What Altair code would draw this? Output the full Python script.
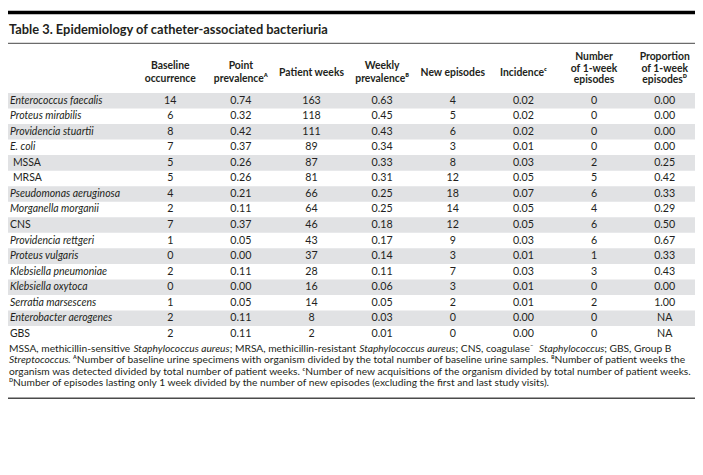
import altair as alt
import pandas as pd

# ---------------- data ----------------
organisms = ["Enterococcus faecalis", "Proteus mirabilis", "Providencia stuartii", "E. coli",
             "MSSA", "MRSA", "Pseudomonas aeruginosa", "Morganella morganii", "CNS",
             "Providencia rettgeri", "Proteus vulgaris", "Klebsiella pneumoniae",
             "Klebsiella oxytoca", "Serratia marsescens", "Enterobacter aerogenes", "GBS"]
baseline = [14, 6, 8, 7, 5, 5, 4, 2, 7, 1, 0, 2, 0, 1, 2, 2]
point_prev = [0.74, 0.32, 0.42, 0.37, 0.26, 0.26, 0.21, 0.11, 0.37, 0.05, 0.00, 0.11, 0.00, 0.05, 0.11, 0.11]
patient_weeks = [163, 118, 111, 89, 87, 81, 66, 64, 46, 43, 37, 28, 16, 14, 8, 2]
weekly_prev = [0.63, 0.45, 0.43, 0.34, 0.33, 0.31, 0.25, 0.25, 0.18, 0.17, 0.14, 0.11, 0.06, 0.05, 0.03, 0.01]
new_episodes = [4, 5, 6, 3, 8, 12, 18, 14, 12, 9, 3, 7, 3, 2, 0, 0]
incidence = [0.02, 0.02, 0.02, 0.01, 0.03, 0.05, 0.07, 0.05, 0.05, 0.03, 0.01, 0.03, 0.01, 0.01, 0.00, 0.00]
one_week = [0, 0, 0, 0, 2, 5, 6, 4, 6, 6, 1, 3, 0, 2, 0, 0]
proportion = [0.00, 0.00, 0.00, 0.00, 0.25, 0.42, 0.33, 0.29, 0.50, 0.67, 0.33, 0.43, 0.00, 1.00, None, None]

col_keys = ["baseline", "point", "weeks", "weekly", "new", "incidence", "oneweek", "proportion"]
col_headers = ["Baseline\noccurrence", "Point\nprevalence\u1d2c", "Patient weeks", "Weekly\nprevalence\u1d2e",
               "New episodes", "Incidence\u1d9c", "Number\nof 1-week\nepisodes", "Proportion\nof 1-week\nepisodes\u1d30"]
roman_names = ["MSSA", "MRSA", "CNS", "GBS"]
indented_names = ["MSSA", "MRSA"]

title_text = "Table 3. Epidemiology of catheter-associated bacteriuria"

# footnote segments: (text, style)
footnote_lines = [
    [("MSSA, methicillin-sensitive ", "normal"), ("Staphylococcus aureus", "italic"),
     ("; MRSA, methicillin-resistant ", "normal"), ("Staphylococcus aureus", "italic"),
     ("; CNS, coagulase\u207b ", "normal"), ("Staphylococcus", "italic"), ("; GBS, Group B", "normal")],
    [("Streptococcus", "italic"),
     (". \u1d2cNumber of baseline urine specimens with organism divided by the total number of baseline urine samples. \u1d2eNumber of patient weeks the", "normal")],
    [("organism was detected divided by total number of patient weeks. \u1d9cNumber of new acquisitions of the organism divided by total number of patient weeks.", "normal")],
    [("\u1d30Number of episodes lasting only 1 week divided by the number of new episodes (excluding the first and last study visits).", "normal")],
]

# ---------------- layout ----------------
W, H = 695, 467
SX = W / 703.0


def cx(v):
    return v * SX


FONT = "Lato"
INK = "#231f20"
BAND = "#e1e2e4"
FOOT_SIZE = 10.35
ITALIC_FACTOR = 0.92

# rough glyph advance widths (1/1000 em) used only to chain footnote segments
_w = {' ': 278, ',': 278, '.': 278, ';': 278, '-': 333, '(': 333, ')': 333, '\u207b': 170,
      '\u1d2c': 380, '\u1d2e': 380, '\u1d9c': 330, '\u1d30': 400}
for ch, v in zip("abcdefghijklmnopqrstuvwxyz",
                 [556, 556, 500, 556, 556, 278, 556, 556, 222, 222, 500, 222, 833, 556, 556, 556, 556, 333, 500, 278, 556, 500, 722, 500, 500, 500]):
    _w[ch] = v
for ch, v in zip("ABCDEFGHIJKLMNOPQRSTUVWXYZ",
                 [667, 667, 722, 722, 667, 611, 778, 722, 278, 500, 667, 556, 833, 722, 778, 667, 778, 722, 667, 611, 722, 667, 944, 667, 667, 611]):
    _w[ch] = v
for ch in "0123456789":
    _w[ch] = 556


def tw(s, style="normal"):
    return sum(_w.get(c, 556) for c in s) * (ITALIC_FACTOR if style == "italic" else 1.0)


# calibrate: the full third footnote line should span the reference width (1 .. 697)
_k = (cx(697) - cx(1)) / tw(footnote_lines[2][0][0])
foot_y = [342, 353.7, 365.4, 377]

# ---------------- tables ----------------
fmt_int = lambda v: str(v)
fmt_2 = lambda v: "NA" if v is None else f"{v:.2f}"
series = [(baseline, fmt_int), (point_prev, fmt_2), (patient_weeks, fmt_int), (weekly_prev, fmt_2),
          (new_episodes, fmt_int), (incidence, fmt_2), (one_week, fmt_int), (proportion, fmt_2)]

long_rows = []
for key, (vals, f) in zip(col_keys, series):
    for org, v in zip(organisms, vals):
        long_rows.append({"organism": org, "col": key, "label": f(v)})
values_df = pd.DataFrame(long_rows)

rows_df = pd.DataFrame({"organism": organisms, "idx": list(range(len(organisms)))})
rows_df["italic"] = ~rows_df["organism"].isin(roman_names)
rows_df["indent"] = rows_df["organism"].isin(indented_names)

head_df = pd.DataFrame({"col": col_keys, "head": col_headers})
head_df["lines"] = head_df["head"].str.count("\n") + 1

yscale = alt.Scale(type="band", domain=organisms, range=[83.2, 334.8], paddingInner=0, paddingOuter=0)
xscale = alt.Scale(type="point", domain=col_keys, range=[cx(166), cx(672)], padding=0)
Y = alt.Y("organism:N", scale=yscale, axis=None)
X = alt.X("col:N", scale=xscale, axis=None)

layers = []

# top black bar, rules
layers.append(alt.Chart().mark_rect(color="#000000").encode(
    x=alt.value(0), x2=alt.value(W), y=alt.value(0), y2=alt.value(3.5)))
layers.append(alt.Chart().mark_rule(color="#6b6b6b", strokeWidth=1.2).encode(
    x=alt.value(0), x2=alt.value(W), y=alt.value(33)))
layers.append(alt.Chart().mark_rule(color="#4a4a4a", strokeWidth=1.6).encode(
    x=alt.value(0), x2=alt.value(W), y=alt.value(392)))

# title
layers.append(alt.Chart().mark_text(text=title_text, align="left", baseline="middle", font=FONT,
                                    fontSize=13, fontWeight="bold", color=INK).encode(
    x=alt.value(cx(1)), y=alt.value(20)))

# alternating bands
layers.append(alt.Chart(rows_df).transform_filter("datum.idx % 2 == 0").mark_rect(color=BAND).encode(
    y=Y, x=alt.value(0), x2=alt.value(W)))

# headers (y is the first line's position)
for n, yv, lh in [(1, 63, 12), (2, 56, 13), (3, 47, 11.8)]:
    layers.append(alt.Chart(head_df).transform_filter(f"datum.lines == {n}").mark_text(
        font=FONT, fontSize=10.5, fontWeight="bold", color=INK, align="center", baseline="middle",
        lineBreak="\n", lineHeight=lh).encode(x=X, y=alt.value(yv), text="head:N"))

# organism names
NAME_SIZE = 10.6
layers.append(alt.Chart(rows_df).transform_filter("datum.italic").mark_text(
    font=FONT, fontSize=NAME_SIZE, fontStyle="italic", color=INK, align="left", baseline="middle").encode(
    y=Y, x=alt.value(cx(2)), text="organism:N"))
layers.append(alt.Chart(rows_df).transform_filter("!datum.italic && !datum.indent").mark_text(
    font=FONT, fontSize=NAME_SIZE, color=INK, align="left", baseline="middle").encode(
    y=Y, x=alt.value(cx(2)), text="organism:N"))
layers.append(alt.Chart(rows_df).transform_filter("datum.indent").mark_text(
    font=FONT, fontSize=NAME_SIZE, color=INK, align="left", baseline="middle").encode(
    y=Y, x=alt.value(cx(5)), text="organism:N"))

# cell values
layers.append(alt.Chart(values_df).mark_text(
    font=FONT, fontSize=10.8, color=INK, align="center", baseline="middle").encode(
    x=X, y=Y, text="label:N"))

# footnotes: segments chained by estimated widths
for line, yv in zip(footnote_lines, foot_y):
    pos = cx(1)
    for seg, style in line:
        layers.append(alt.Chart().mark_text(text=seg, font=FONT, fontSize=FOOT_SIZE, fontStyle=style, color=INK,
                                            align="left", baseline="middle").encode(
            x=alt.value(pos), y=alt.value(yv)))
        pos += tw(seg, style) * _k

chart = alt.layer(*layers).properties(
    width=W, height=H, autosize=alt.AutoSizeParams(type="none"), padding=0
).configure_view(strokeWidth=0)

chart.save("out.html", embed_options={"renderer": "svg", "actions": False})
